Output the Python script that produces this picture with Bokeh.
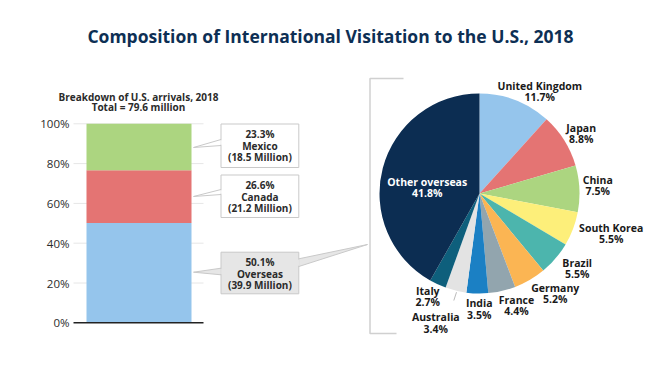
import numpy as np
from bokeh.plotting import figure
from bokeh.models import Range1d, FixedTicker, PrintfTickFormatter
from bokeh.core.properties import value
from bokeh.embed import file_html
from bokeh.resources import INLINE

# ---------------- data ----------------
title = "Composition of International Visitation to the U.S., 2018"
bar_heading = ["Breakdown of U.S. arrivals, 2018", "Total = 79.6 million"]
bar_categories = ["Overseas", "Canada", "Mexico"]
bar_shares = [50.1, 26.6, 23.3]
bar_millions = [39.9, 21.2, 18.5]
y_ticks = [0, 20, 40, 60, 80, 100]

pie_countries = ["United Kingdom", "Japan", "China", "South Korea", "Brazil",
                 "Germany", "France", "India", "Australia", "Italy", "Other overseas"]
pie_shares = [11.7, 8.8, 7.5, 5.5, 5.5, 5.2, 4.4, 3.5, 3.4, 2.7, 41.8]

# ---------------- styles ----------------
bar_colors = ["#95c5ec", "#e47473", "#acd580"]
pie_colors = ["#95c5ec", "#e47473", "#acd580", "#fdef7a", "#4cb5ad",
              "#fbb553", "#92a5ae", "#1b80c4", "#e3e3e3", "#0e5f7c", "#0c2d52"]
NAVY = "#0d2f54"
TXT = "#2b2b2b"
FONT = value("Open Sans")

W, H = 644, 359
LEFT = 52                 # frame offset (px)
STANDOFF = LEFT - 69      # labels end at page x = 69
ZERO_Y = 322.3            # page y of 0%
PX_PER_PCT = 1.99


def Y(page_y):
    """page pixel y -> percent-axis value"""
    return (ZERO_Y - page_y) / PX_PER_PCT


p = figure(width=W, height=H, output_backend="svg", toolbar_location=None,
           x_range=Range1d(LEFT, W), y_range=Range1d(Y(H), Y(0)),
           min_border_left=LEFT, min_border_right=0, min_border_top=0,
           min_border_bottom=0, outline_line_color=None, background_fill_color="white",
           border_fill_color="white")
p.xaxis.visible = False
p.xgrid.visible = False
p.ygrid.visible = False
ax = p.yaxis[0]
ax.ticker = FixedTicker(ticks=y_ticks)
ax.formatter = PrintfTickFormatter(format="%d%%")
ax.axis_line_color = None
ax.major_tick_line_color = None
ax.minor_tick_line_color = None
ax.major_tick_out = 0
ax.major_tick_in = 0
ax.major_label_standoff = STANDOFF
ax.major_label_text_font = "Open Sans"
ax.major_label_text_font_size = "11.5px"
ax.major_label_text_color = TXT

# ---------------- bar chart ----------------
BAR_L, BAR_R = 86, 191
GRID_L, GRID_R = 73, 203
p.segment(x0=[GRID_L] * 5, x1=[GRID_R] * 5, y0=y_ticks[1:], y1=y_ticks[1:],
          line_color="#e6e6e6", line_width=1)
tops = np.cumsum(bar_shares)
bottoms = tops - np.array(bar_shares)
p.vbar(x=[(BAR_L + BAR_R) / 2] * 3, width=BAR_R - BAR_L, bottom=bottoms, top=tops,
       fill_color=bar_colors, line_color=None)
p.segment(x0=[GRID_L], x1=[GRID_R], y0=[y_ticks[0]], y1=[y_ticks[0]],
          line_color="#222222", line_width=1.5)

p.text(x=[138, 138], y=[Y(96), Y(106.5)], text=bar_heading, text_font=FONT,
       text_font_style="bold", text_font_size="10px", text_color=TXT,
       text_align="center", text_baseline="middle")

# callout boxes (top to bottom: Mexico, Canada, Overseas)
boxes = [  # top, bottom (page px), tip y, edge y0, edge y1
    (123.5, 167, 147, 139, 145),
    (174.5, 217, 196, 189, 194),
    (251.7, 293.3, 271.7, 267.7, 274.3),
]
BOX_L, BOX_R, TIP_X = 220.5, 298.3, 193
order = [2, 1, 0]
for (top, bot, ty, e0, e1), idx in zip(boxes, order):
    fill = "#e6e6e6" if idx == 0 else "white"
    p.patch(x=[BOX_L, TIP_X, BOX_L], y=[Y(e0), Y(ty), Y(e1)], fill_color=fill,
            line_color="#c9c9c9", line_width=1)
    p.quad(left=[BOX_L], right=[BOX_R], top=[Y(top)], bottom=[Y(bot)],
           fill_color=fill, line_color="#c9c9c9", line_width=1)
    p.segment(x0=[BOX_L], x1=[BOX_L], y0=[Y(e0 + 0.8)], y1=[Y(e1 - 0.8)],
              line_color=fill, line_width=1.5)
    cy = (top + bot) / 2
    lines = [f"{bar_shares[idx]}%", bar_categories[idx],
             f"({bar_millions[idx]} Million)"]
    p.text(x=[(BOX_L + BOX_R) / 2] * 3, y=[Y(cy - 11.5), Y(cy + 0.5), Y(cy + 11.5)],
           text=lines, text_font=FONT, text_font_style="bold", text_font_size="10px",
           text_color=TXT, text_align="center", text_baseline="middle")

# overseas connector toward the pie bracket
p.patch(x=[BOX_R, 367, BOX_R], y=[Y(258.3), Y(244), Y(266)], fill_color="#e6e6e6",
        line_color="#c9c9c9", line_width=1)
p.segment(x0=[BOX_R], x1=[BOX_R], y0=[Y(259)], y1=[Y(265.3)], line_color="#e6e6e6",
          line_width=1.5)

# bracket
BR = "#d0d0d0"
p.line(x=[403, 369.5, 369.5, 396], y=[Y(78), Y(78), Y(333), Y(333)],
       line_color=BR, line_width=1.5)

# ---------------- pie ----------------
CX, CY, R = 479, 193, 100
cum = np.cumsum(pie_shares) / 100.0
start = np.pi / 2 - (cum - np.array(pie_shares) / 100.0) * 2 * np.pi
end = np.pi / 2 - cum * 2 * np.pi
p.wedge(x=[CX] * len(pie_shares), y=[Y(CY)] * len(pie_shares), radius=R,
        radius_units="screen", start_angle=start, end_angle=end, direction="clock",
        fill_color=pie_colors, line_color=None)

label_pos = [  # center x, first line y (page px)
    (539.3, 85), (580.7, 127.3), (597.3, 179), (610.7, 227), (576.7, 262.3),
    (554.7, 287.3), (516, 299.3), (478.7, 302.7), (435.3, 316.7), (427.3, 290),
    (426.7, 181),
]
for i, (name, share) in enumerate(zip(pie_countries, pie_shares)):
    lx, ly = label_pos[i]
    color = "white" if name == "Other overseas" else "#1a1a1a"
    p.text(x=[lx, lx], y=[Y(ly), Y(ly + 11.5)], text=[name, f"{share}%"],
           text_font=FONT, text_font_style="bold", text_font_size="10.5px",
           text_color=color, text_align="center", text_baseline="middle")

# Australia leader
p.segment(x0=[456], x1=[453.3], y0=[Y(291.7)], y1=[Y(300)], line_color="#bbbbbb",
          line_width=1)

# ---------------- title ----------------
p.text(x=[330], y=[Y(35)], text=[title], text_font=FONT, text_font_style="bold",
       text_font_size="17.5px", text_color=NAVY, text_align="center",
       text_baseline="middle")

open("out.html", "w").write(file_html(p, INLINE))
